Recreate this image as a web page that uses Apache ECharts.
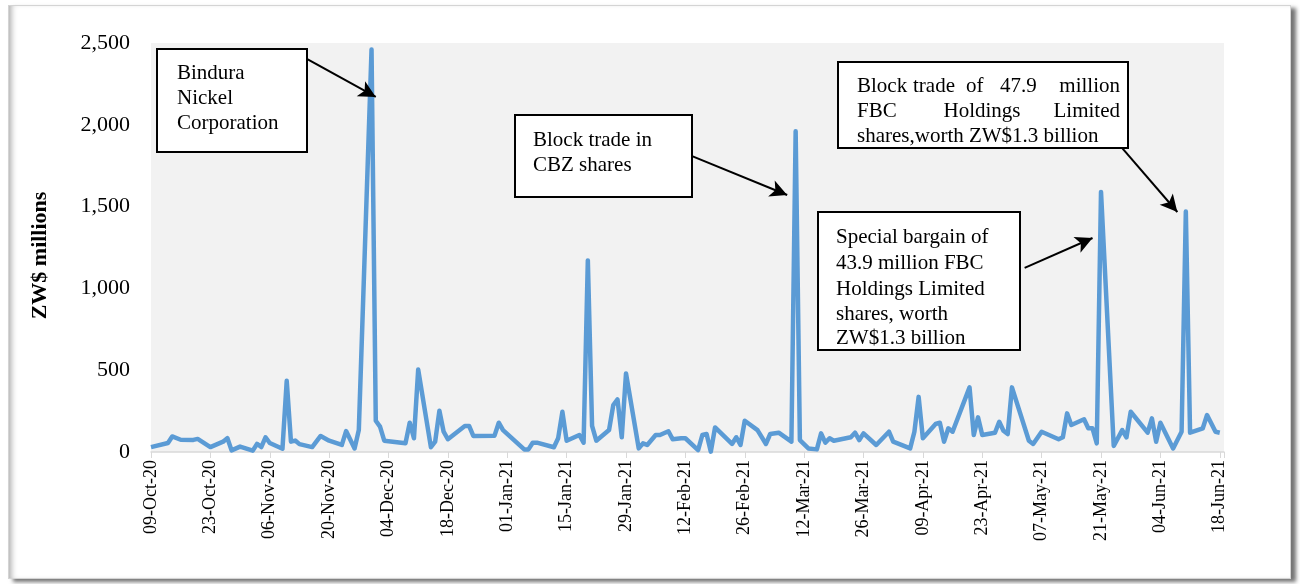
<!DOCTYPE html>
<html>
<head>
<meta charset="utf-8">
<script src="https://cdn.jsdelivr.net/npm/echarts@6/dist/echarts.min.js"></script>
<style>
  html, body { margin: 0; padding: 0; background: #fff; }
  #frame {
    position: absolute; left: 8px; top: 5px; width: 1281px; height: 572px;
    border: 1px solid #d4d4d4;
    box-shadow: inset 6px 0 6px -4px rgba(0,0,0,0.35), 5px 3px 4px rgba(0,0,0,0.55);
  }
  #chart { position: absolute; left: 0; top: 0; width: 1300px; height: 584px; }
</style>
</head>
<body>
<div id="frame"></div>
<div id="chart"></div>
<script>
// daily value traded, ZW$ millions
const tradeDates = [
  '2020-10-09', '2020-10-13', '2020-10-14', '2020-10-16', '2020-10-19', '2020-10-20', '2020-10-23',
  '2020-10-26', '2020-10-27', '2020-10-28', '2020-10-30', '2020-11-02', '2020-11-03', '2020-11-04',
  '2020-11-05', '2020-11-06', '2020-11-09', '2020-11-10', '2020-11-11', '2020-11-12', '2020-11-13',
  '2020-11-16', '2020-11-18', '2020-11-20', '2020-11-23', '2020-11-24', '2020-11-26', '2020-11-27',
  '2020-11-30', '2020-12-01', '2020-12-02', '2020-12-03', '2020-12-08', '2020-12-09', '2020-12-10',
  '2020-12-11', '2020-12-14', '2020-12-15', '2020-12-16', '2020-12-17', '2020-12-18', '2020-12-22',
  '2020-12-23', '2020-12-24', '2020-12-29', '2020-12-30', '2020-12-31', '2021-01-05', '2021-01-06',
  '2021-01-07', '2021-01-08', '2021-01-12', '2021-01-13', '2021-01-14', '2021-01-15', '2021-01-18',
  '2021-01-19', '2021-01-20', '2021-01-21', '2021-01-22', '2021-01-25', '2021-01-26', '2021-01-27',
  '2021-01-28', '2021-01-29', '2021-02-01', '2021-02-02', '2021-02-03', '2021-02-05', '2021-02-06',
  '2021-02-08', '2021-02-09', '2021-02-11', '2021-02-12', '2021-02-15', '2021-02-16', '2021-02-17',
  '2021-02-18', '2021-02-19', '2021-02-23', '2021-02-24', '2021-02-25', '2021-02-26', '2021-03-01',
  '2021-03-03', '2021-03-04', '2021-03-06', '2021-03-09', '2021-03-10', '2021-03-11', '2021-03-13',
  '2021-03-15', '2021-03-16', '2021-03-17', '2021-03-18', '2021-03-19', '2021-03-23', '2021-03-24',
  '2021-03-25', '2021-03-26', '2021-03-29', '2021-04-01', '2021-04-02', '2021-04-06', '2021-04-07',
  '2021-04-08', '2021-04-09', '2021-04-12', '2021-04-13', '2021-04-14', '2021-04-15', '2021-04-16',
  '2021-04-20', '2021-04-21', '2021-04-22', '2021-04-23', '2021-04-26', '2021-04-27', '2021-04-28',
  '2021-04-29', '2021-04-30', '2021-05-04', '2021-05-05', '2021-05-07', '2021-05-11', '2021-05-12',
  '2021-05-13', '2021-05-14', '2021-05-17', '2021-05-18', '2021-05-19', '2021-05-20', '2021-05-21',
  '2021-05-24', '2021-05-26', '2021-05-27', '2021-05-28', '2021-06-01', '2021-06-02', '2021-06-03',
  '2021-06-04', '2021-06-07', '2021-06-09', '2021-06-10', '2021-06-11', '2021-06-14', '2021-06-15',
  '2021-06-17', '2021-06-18'
];
const tradeValues = [
  30, 55, 95, 75, 74, 80, 30,
  63, 85, 10, 33, 8, 50, 30,
  90, 55, 20, 435, 63, 70, 48,
  30, 98, 69, 43, 128, 22, 134,
  2460, 191, 155, 69, 53, 179, 84,
  504, 29, 63, 252, 124, 78, 159,
  159, 98, 100, 179, 134, 16, 16,
  57, 57, 29, 84, 246, 69, 104,
  57, 1171, 159, 69, 134, 287, 321,
  90, 480, 22, 53, 43, 104, 104,
  127, 78, 84, 84, 12, 104, 110,
  2, 150, 49, 90, 43, 191, 134,
  49, 110, 118, 63, 1960, 73, 22,
  16, 114, 57, 84, 69, 90, 118,
  73, 114, 43, 124, 63, 22, 124,
  337, 84, 171, 179, 63, 145, 124,
  395, 104, 212, 104, 118, 185, 130,
  110, 395, 69, 49, 124, 78, 90,
  236, 165, 200, 145, 145, 53, 1590,
  37, 134, 90, 246, 118, 206, 63,
  179, 22, 124, 1470, 118, 145, 226,
  124, 118
];
const yTicks = [0, 500, 1000, 1500, 2000, 2500];

// annotation arrows: [from date, from value, to date, to value]
const arrows = [
  ['2020-11-14', 2414, '2020-12-01', 2170],
  ['2021-02-13', 1815, '2021-03-08', 1571],
  ['2021-05-03', 1125, '2021-05-19', 1308],
  ['2021-05-26', 1858, '2021-06-08', 1467]
];

const startMs = Date.UTC(2020, 9, 9);
const DAY = 86400000;
const dayOf = s => (Date.parse(s) - startMs) / DAY;
const MONTHS = ['Jan', 'Feb', 'Mar', 'Apr', 'May', 'Jun', 'Jul', 'Aug', 'Sep', 'Oct', 'Nov', 'Dec'];
const fmtDay = v => {
  if (v % 14 !== 0) return '';
  const d = new Date(startMs + v * DAY);
  const dd = String(d.getUTCDate()).padStart(2, '0');
  return dd + '-' + MONTHS[d.getUTCMonth()] + '-' + String(d.getUTCFullYear()).slice(2);
};

const FONT = '"Liberation Serif", "Times New Roman", serif';
const chart = echarts.init(document.getElementById('chart'));

const box = (x, y, w, h) => ({
  type: 'rect', z: 100,
  shape: {x: x, y: y, width: w, height: h},
  style: {fill: '#fff', stroke: '#000', lineWidth: 2}
});
const txt = (x, y, s, align) => ({
  type: 'text', z: 101, x: x, y: y,
  style: {text: s, font: '21px ' + FONT, fill: '#000', textVerticalAlign: 'middle', textAlign: align || 'left'}
});

const option = {
  animation: false,
  grid: {
    left: 151, right: 76, top: 43, bottom: 132,
    show: true, backgroundColor: '#f2f2f2', borderWidth: 0
  },
  xAxis: {
    type: 'value',
    min: 0,
    max: 253,
    interval: 14,
    axisLine: {lineStyle: {color: '#d9d9d9', width: 1.5}},
    axisTick: {show: true, length: 6, lineStyle: {color: '#d9d9d9'}},
    splitLine: {show: false},
    axisLabel: {
      rotate: 90, margin: 8, color: '#000', fontSize: 18, fontFamily: FONT,
      formatter: fmtDay
    }
  },
  yAxis: {
    type: 'value',
    min: yTicks[0],
    max: yTicks[yTicks.length - 1],
    interval: 500,
    name: 'ZW$ millions',
    nameLocation: 'middle',
    nameGap: 100,
    nameTextStyle: {fontFamily: FONT, fontSize: 22, fontWeight: 'bold', color: '#000', padding: [0, 16, 0, 0]},
    axisLine: {show: false},
    axisTick: {show: false},
    splitLine: {show: false},
    axisLabel: {
      margin: 21, color: '#000', fontSize: 22, fontFamily: FONT,
      formatter: v => v.toLocaleString('en-US')
    }
  },
  series: [{
    type: 'line',
    data: tradeDates.map((d, i) => [dayOf(d), tradeValues[i]]),
    showSymbol: false,
    symbol: 'none',
    lineStyle: {color: '#5b9bd5', width: 4.5, join: 'round'},
    markLine: {
      silent: true,
      symbol: ['none', 'arrow'],
      symbolSize: [13, 17],
      label: {show: false},
      lineStyle: {color: '#000', width: 2, type: 'solid'},
      data: arrows.map(a => [
        {coord: [dayOf(a[0]), a[1]]},
        {coord: [dayOf(a[2]), a[3]]}
      ])
    }
  }],
  graphic: [
    box(157, 49, 150, 103),
    txt(177, 73, 'Bindura'),
    txt(177, 98, 'Nickel'),
    txt(177, 123, 'Corporation'),

    box(515, 115, 177, 82),
    txt(533, 140, 'Block trade in'),
    txt(533, 165, 'CBZ shares'),

    box(818, 212, 202, 138),
    txt(836, 237, 'Special bargain of'),
    txt(836, 263, '43.9 million FBC'),
    txt(836, 289, 'Holdings Limited'),
    txt(836, 314, 'shares, worth'),
    txt(836, 338, 'ZW$1.3 billion'),

    box(838, 62, 290, 86),
    txt(857, 86, 'Block'),
    txt(913, 86, 'trade'),
    txt(966, 86, 'of'),
    txt(1000, 86, '47.9'),
    txt(1120, 86, 'million', 'right'),
    txt(857, 111, 'FBC'),
    txt(982, 111, 'Holdings', 'center'),
    txt(1120, 111, 'Limited', 'right'),
    txt(857, 136, 'shares,worth ZW$1.3 billion')
  ]
};
chart.setOption(option);
</script>
</body>
</html>
